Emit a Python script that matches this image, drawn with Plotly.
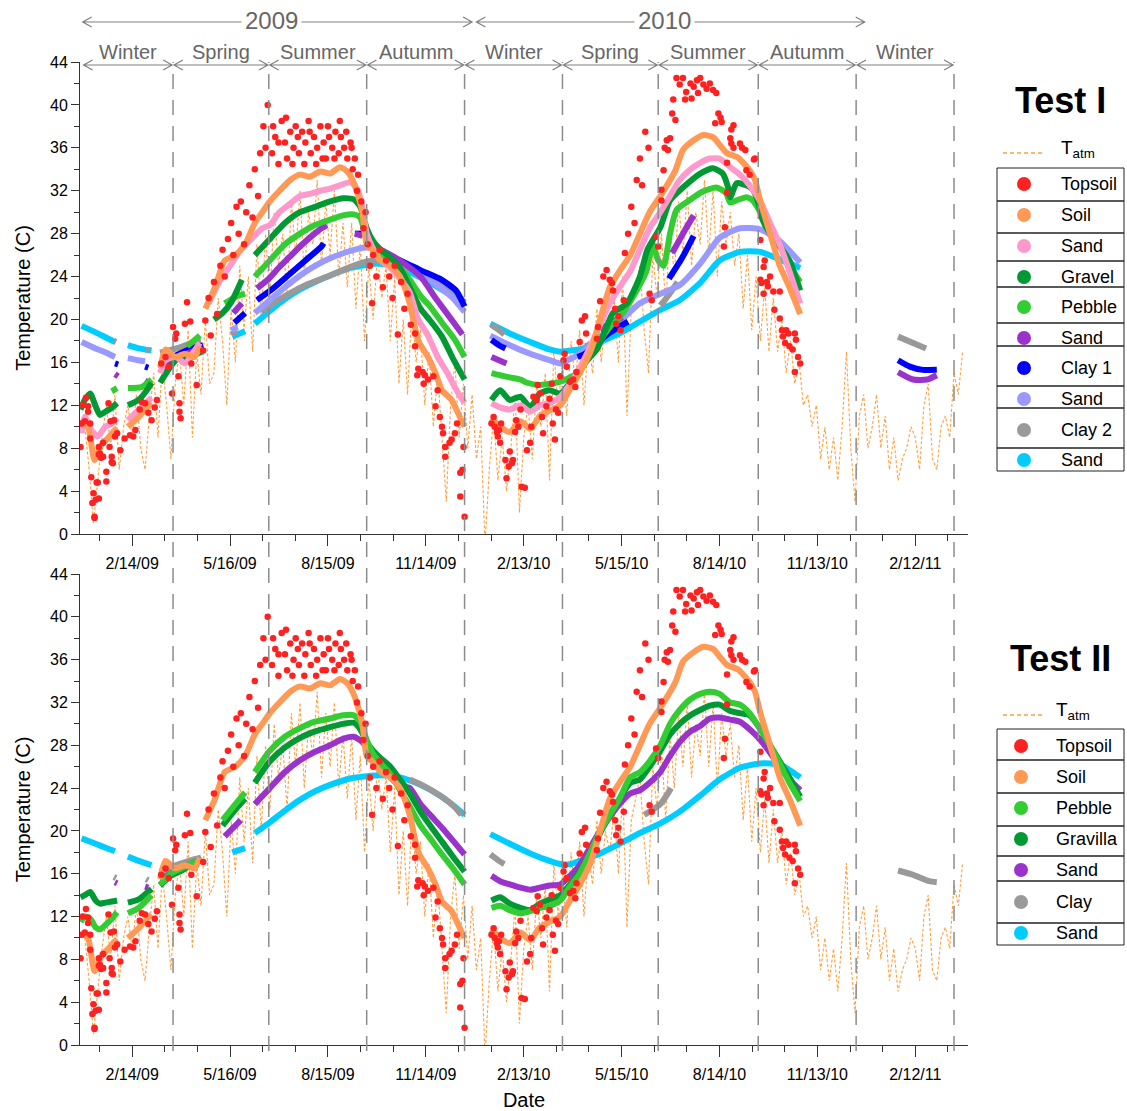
import pandas as pd
import plotly.graph_objects as go

FONT = "Arial, Liberation Sans, sans-serif"
BASE = pd.Timestamp("2009-01-01")
X0 = pd.Timestamp("2008-12-27 12:00")
X1 = pd.Timestamp("2011-04-02")

# ---------------- data (day = days since 2009-01-01) ----------------
TATM_STEP = 4
TATM = [10, 6, 1, 5, 9, 12, 8, 13,
        6, 10, 12, 9, 13, 8, 6,
        11, 15, 9, 16, 12, 7, 14, 17,
        12, 19, 9, 17, 13, 20, 14,
        15, 22, 18, 12, 21, 16, 25, 19,
        24, 17, 27, 20, 28, 22, 30, 25,
        28, 22, 31, 26, 32, 24, 30,
        27, 33, 25, 31, 26, 32, 24, 29,
        23, 29, 21, 27, 18, 25, 20, 26,
        22, 25, 18, 24, 14, 20, 13,
        21, 16, 19, 12, 17, 10, 15, 9,
        3, 12, 16, 9, 14, 8, 13, 7,
        10, -1, 6, 11, 5, 9, 4,
        8, 13, 2, 9, 12, 7, 14,
        10, 15, 5, 17, 12, 16, 11, 18,
        14, 19, 12, 18, 15, 21, 16, 20,
        18, 22, 16, 24, 11, 21, 23,
        25, 19, 15, 26, 22, 28, 21, 29,
        24, 31, 26, 32, 25, 30, 27, 33,
        26, 32, 24, 31, 27, 30, 25,
        28, 21, 26, 19, 24, 18, 23, 17,
        22, 17, 20, 15, 18, 14, 16, 12,
        13, 10, 12, 7, 10, 6, 9,
        5, 10, 17, 8, 3, 11, 13, 8,
        10, 13, 8, 11, 6, 9, 5, 7,
        8, 10, 9, 6, 12, 14, 7,
        6, 10, 11, 9, 15, 13, 17]

TOPSOIL = [
    (-4, 8.1), (-3, 10.3), (-2, 12.0), (0, 10.5), (1, 12.7), (3, 11.4), (3, 11.9), (5, 8.9), (5, 10.3), (6, 5.3),
    (7, 2.9), (8, 3.8), (9, 1.6), (9, 1.5), (10, 3.2), (11, 4.8), (12, 4.8), (13, 3.3), (13, 8.1), (13, 7.4),
    (14, 7.5), (15, 7.1), (17, 8.5), (17, 7.2), (20, 5.8), (20, 4.9), (22, 12.2), (23, 8.1), (24, 10.5), (25, 6.7),
    (25, 7.2), (26, 6.6), (27, 10.6), (28, 9.1), (30, 9.4), (33, 7.8), (37, 8.9),
    (42, 9.2), (45, 9.1), (47, 9.7), (51, 11.6), (53, 12.3), (56, 12.2), (59, 11.3), (62, 10.6), (65, 11.8), (67, 12.5),
    (71, 15.9), (75, 16.5), (78, 15.6), (81, 13.1), (82, 19.3), (84, 18.2), (85, 18.7), (87, 14.7), (88, 11.4), (88, 12.2),
    (89, 10.8), (93, 19.6), (95, 21.6), (98, 19.8), (99, 15.9), (104, 13.9), (110, 17.1), (112, 19.9),
    (115, 22.0), (117, 18.5), (120, 23.5), (123, 20.5), (126, 25.0), (128, 26.5), (130, 24.0), (133, 27.5), (136, 29.0),
    (138, 26.0), (141, 30.5), (143, 28.0), (145, 31.0), (148, 27.0), (150, 30.0), (153, 32.5), (156, 29.5), (158, 34.0),
    (161, 31.5), (163, 35.5), (166, 38.0), (168, 36.0), (170, 40.0),
    (174, 35.5), (175, 38.0), (177, 37.0), (180, 34.5), (180, 36.5), (183, 38.5), (186, 36.5), (187, 38.8), (188, 35.0),
    (191, 37.5), (193, 34.5), (194, 36.0), (196, 38.0), (198, 37.0), (199, 35.5), (202, 37.5), (204, 34.5), (205, 36.5),
    (208, 38.5), (209, 37.5), (210, 35.5), (213, 37.0), (215, 34.5), (216, 36.0), (219, 38.0), (221, 35.0), (222, 36.5),
    (224, 35.0), (226, 38.0), (227, 37.0), (230, 36.0), (232, 35.0), (233, 37.5), (236, 35.5), (237, 38.5), (238, 37.0),
    (241, 36.0), (243, 37.5), (244, 35.0), (247, 36.5), (248, 36.0), (249, 34.0), (251, 35.0), (253, 32.0), (254, 33.5),
    (257, 31.0), (259, 28.5), (261, 30.0),
    (263, 27.0), (265, 25.0), (267, 21.5), (268, 26.0), (271, 24.0), (274, 26.5), (277, 23.0), (280, 25.5), (283, 24.0),
    (286, 22.0), (288, 25.0), (291, 18.6), (294, 23.5), (297, 21.0), (300, 22.4), (303, 19.5), (307, 18.7), (307, 17.5),
    (309, 14.8), (310, 15.4), (314, 15.1), (315, 14.0), (316, 14.8), (319, 14.4), (324, 14.7), (326, 11.9), (328, 13.4),
    (330, 10.9), (332, 10.0), (333, 9.4), (335, 8.1), (335, 7.2), (339, 8.5), (341, 8.8), (344, 9.4), (346, 10.3),
    (349, 5.7), (349, 3.5), (351, 6.0), (352, 8.1), (353, 1.6),
    (378, 10.3), (380, 10.9), (381, 10.0), (383, 9.5), (384, 9.1), (385, 9.7), (386, 8.5), (387, 10.3), (391, 6.9),
    (392, 5.2), (394, 6.3), (395, 7.7), (397, 6.6), (398, 6.9), (400, 9.5), (401, 10.6), (403, 10.0), (405, 11.6),
    (406, 4.4), (409, 4.3), (411, 7.8), (414, 8.5), (415, 10.0), (417, 12.8), (420, 12.5), (421, 13.9), (423, 13.1),
    (425, 10.9), (426, 9.4), (429, 11.9), (432, 12.6), (434, 14.0), (435, 10.3), (437, 8.8), (438, 11.6), (440, 11.3),
    (442, 14.7), (445, 16.2), (446, 16.8), (448, 15.6), (451, 14.2), (454, 14.4), (456, 13.7), (457, 15.1), (460, 17.9),
    (462, 19.9), (465, 20.3), (466, 18.7), (476, 18.2), (477, 19.3), (479, 21.7), (482, 24.0), (485, 24.6), (488, 23.7),
    (490, 23.4), (491, 22.7), (493, 21.0), (494, 19.6), (496, 20.3), (498, 19.0), (501, 21.8), (502, 26.2), (505, 28.0),
    (508, 30.5), (511, 29.0), (513, 33.0), (516, 35.0), (518, 32.5), (521, 37.5), (524, 36.0), (525, 22.4), (527, 21.8),
    (531, 27.7), (533, 26.8), (536, 32.1), (536, 31.1), (538, 33.9), (539, 36.0), (541, 36.7), (542, 35.8), (544, 36.9),
    (546, 39.2), (547, 40.5), (549, 38.6), (550, 42.5), (553, 41.9), (556, 42.5), (558, 40.5), (559, 41.2), (563, 42.0),
    (564, 40.6), (566, 41.7), (569, 42.3), (570, 41.1), (572, 42.5), (575, 41.9), (578, 41.5), (581, 42.0), (584, 41.4),
    (586, 38.3), (587, 41.1), (589, 39.2), (591, 38.8), (592, 38.4), (594, 26.8), (595, 28.6), (597, 31.8), (597, 34.6),
    (600, 36.9), (601, 37.7), (601, 36.4), (603, 38.1), (603, 36.0), (609, 36.4), (611, 36.0), (614, 35.8), (615, 33.9),
    (618, 33.5), (622, 34.9), (623, 35.0),
    (628, 27.4), (628, 23.7), (629, 23.4), (631, 24.9), (631, 22.4), (632, 25.5), (634, 23.5), (635, 23.1), (637, 24.0),
    (640, 22.6), (641, 20.9), (646, 20.1), (646, 22.6), (648, 19.0), (649, 18.4), (651, 17.8), (652, 19.0), (654, 18.7),
    (655, 17.5), (658, 17.2), (660, 18.7), (660, 15.1), (661, 18.1), (663, 16.5), (665, 15.9)]

SOIL = [(-3, 10.5), (3, 10.0), (9, 6.9), (16, 8.4), (22, 9.0), (28, 9.7), (30, 9.9), None,
        (40, 10.0), (50, 10.9), (56, 11.6), (62, 12.2), None,
        (70, 15.5), (75, 17.2), (84, 16.5), (93, 16.8), (102, 16.5), (107, 17.5), None,
        (112, 21.0), (121, 23.0), (130, 25.5), (140, 26.0), (149, 27.0), (158, 29.0), (165, 30.0), (172, 31.0),
        (181, 32.0), (191, 33.0), (200, 33.5), (209, 33.3), (219, 33.8), (228, 33.6), (237, 34.2), (244, 33.8),
        (251, 32.5), (258, 30.0), (262, 27.0), (267, 26.5), (275, 25.5), (284, 25.0), (293, 24.0), (302, 21.5),
        (310, 18.0), (319, 16.5), (326, 15.0), (332, 13.4), (341, 12.5), (350, 10.6), (353, 10.0), None,
        (378, 10.8), (386, 10.0), (395, 9.5), (405, 10.5), (414, 9.8), (423, 11.0), (432, 11.5), (442, 12.0),
        (451, 13.5), (460, 15.0), (470, 17.0), (479, 20.0), (488, 23.0), (497, 24.5), (507, 26.0), (516, 28.0),
        (525, 30.0), (535, 31.5), (549, 33.9), (556, 35.8), (566, 36.7), (575, 37.2), (584, 37.0), (590, 36.3),
        (597, 35.5), (607, 35.1), (618, 33.9), (623, 33.0), (628, 31.0), (637, 28.0), (646, 25.0), (655, 23.0),
        (665, 20.5)]

# ---- Test I ----
I_SAND_PINK = [(-3, 9.4), (0, 10.9), (6, 9.7), (12, 9.1), (19, 10.0), (25, 10.3), (30, 10.8), None,
               (40, 10.6), (50, 11.6), (62, 12.7), None,
               (70, 15.0), (75, 16.2), (85, 16.5), (93, 15.9), (100, 16.8), (107, 17.8), None,
               (115, 21.5), (125, 23.5), (135, 25.0), (145, 26.5), (155, 27.5), (165, 28.5), (172, 28.8),
               (181, 30.0), (191, 30.8), (200, 31.5), (209, 31.7), (219, 32.0), (228, 32.2), (237, 32.5),
               (247, 32.8), (254, 32.0), (258, 30.5), (262, 28.0), (267, 26.8), (275, 25.5), (284, 24.8),
               (293, 23.8), (302, 22.5), (310, 20.0), (319, 18.5), (328, 16.5), (337, 15.0), (345, 13.5),
               (353, 12.2), None,
               (378, 12.2), (386, 11.8), (395, 11.6), (405, 12.0), (414, 11.4), (423, 12.0), (432, 12.2),
               (442, 12.8), (451, 14.0), (460, 15.5), (470, 17.5), (479, 19.5), (488, 21.5), (497, 23.0),
               (507, 24.5), (516, 26.5), (525, 28.5), (535, 30.0), (544, 31.5), (553, 33.0), (563, 34.0),
               (572, 34.6), (581, 35.0), (590, 35.0), (600, 34.2), (609, 33.5), (618, 32.5), (628, 31.0),
               (637, 29.0), (646, 27.0), (655, 24.5), (665, 21.5)]
I_GRAVEL = [(-4, 11.6), (0, 12.5), (5, 13.1), (10, 11.9), (14, 11.1), (19, 11.4), (24, 11.7), (30, 12.2), None,
            (40, 12.0), (50, 12.5), (59, 13.6), (62, 14.1), None,
            (70, 14.1), (81, 15.8), (90, 16.7), (93, 16.0), (99, 16.5), (109, 17.0), None,
            (120, 20.0), (128, 20.6), (136, 21.6), (146, 23.7), None,
            (158, 26.0), (172, 27.5), (186, 29.0), (200, 30.0), (214, 30.5), (228, 31.0), (240, 31.3),
            (250, 31.2), (256, 30.5), (262, 28.5), (268, 27.3), (275, 26.5), (284, 25.8), (293, 24.8),
            (302, 23.0), (312, 21.0), (321, 19.9), (332, 18.4), (343, 16.2), (353, 14.4), None,
            (378, 12.5), (386, 13.4), (395, 12.5), (405, 12.8), (414, 11.8), (423, 13.1), (432, 13.4),
            (442, 13.1), (451, 14.1), (467, 16.2), (476, 17.2), (485, 19.3), (491, 20.6), (504, 21.5),
            (516, 24.0), (523, 26.5), (535, 28.6), (544, 31.1), (556, 32.3), (572, 33.6), (584, 34.1),
            (593, 33.6), (598, 32.3), (600, 31.4), (606, 32.7), (615, 32.5), (621, 32.1), (626, 30.9),
            (630, 29.3), (637, 28.0), (646, 26.8), (655, 25.5), (665, 22.7)]
I_PEBBLE = [(25, 13.3), (30, 13.6), None,
            (40, 13.6), (53, 13.7), (62, 14.4), None,
            (95, 17.5), (107, 18.5), None,
            (130, 21.5), (140, 22.1), (149, 22.4), None,
            (158, 24.0), (172, 25.5), (186, 27.0), (200, 28.0), (214, 28.8), (228, 29.3), (240, 29.7),
            (250, 29.8), (256, 29.5), (262, 27.5), (268, 26.8), (275, 26.0), (284, 25.3), (293, 24.7),
            (302, 23.7), (312, 22.2), (321, 21.2), (332, 19.7), (344, 18.1), (353, 16.5), None,
            (378, 15.0), (386, 14.8), (395, 14.6), (405, 14.4), (411, 14.1), (423, 13.9), (432, 14.0),
            (442, 14.2), (458, 15.0), (473, 17.2), (488, 19.3), (497, 20.2), (504, 21.2), (513, 22.7),
            (522, 24.5), (528, 27.0), (533, 25.5), (538, 25.0), (544, 28.0), (550, 30.2), (562, 31.1),
            (574, 31.9), (587, 32.3), (596, 31.8), (600, 30.9), (606, 31.1), (615, 31.4), (621, 31.1),
            (625, 30.5), (637, 28.5), (646, 27.0), (655, 25.0), (665, 23.5)]
I_SAND_PURPLE = [(28, 14.9), (31, 14.7), None, (56, 14.3), (59, 14.1), None,
                 (70, 15.3), (80, 16.0), (90, 16.6), (100, 17.0), (107, 17.3), None,
                 (138, 20.6), (146, 21.5), None,
                 (160, 22.9), (170, 23.7), (180, 24.8), (190, 25.8), (200, 26.8), (210, 27.7), (220, 28.5),
                 (225, 28.8), None,
                 (251, 28.0), (258, 27.8), None,
                 (275, 26.5), (293, 25.5), (312, 24.0), (326, 22.0), (340, 20.1), (351, 18.6), None,
                 (378, 16.5), (385, 16.2), (392, 15.9), None,
                 (479, 19.0), (490, 19.8), (500, 20.2), None,
                 (546, 26.2), (556, 28.0), (566, 29.7), None,
                 (756, 15.1), (770, 14.4), (783, 14.4), (792, 14.8)]
I_CLAY1 = [(28, 15.9), (31, 15.8), None, (56, 15.6), (59, 15.5), None,
           (70, 15.8), (80, 16.4), (90, 16.9), (100, 17.3), (110, 17.6), None,
           (139, 19.7), (149, 20.6), None,
           (160, 21.8), (175, 22.9), (190, 24.2), (205, 25.5), (220, 26.8), (222, 27.1), None,
           (251, 28.0), (259, 28.0), None,
           (275, 26.0), (293, 25.5), (312, 24.6), (330, 23.8), (345, 22.7), (353, 21.2), None,
           (378, 18.1), (385, 17.6), (391, 17.3), None,
           (458, 16.5), (465, 16.8), (487, 18.7), (505, 19.8), None,
           (543, 23.8), (555, 25.7), (566, 27.8), None,
           (756, 16.2), (767, 15.6), (779, 15.3), (792, 15.3)]
I_SAND_LAV = [(-3, 17.9), (10, 17.3), (20, 16.9), (28, 16.5), None,
              (40, 16.4), (50, 16.2), (56, 16.1), None,
              (136, 19.0), (142, 19.3), None,
              (158, 20.6), (172, 21.8), (186, 23.0), (200, 24.1), (214, 25.0), (228, 25.7), (247, 26.4),
              (262, 26.7), (275, 26.3), (293, 25.5), (312, 24.3), (330, 23.0), (341, 22.1), (353, 20.7), None,
              (377, 18.5), (395, 17.6), (414, 16.8), (432, 16.2), (442, 15.9), (451, 16.3), (460, 16.8),
              (479, 18.4), (497, 19.8), (516, 21.5), (535, 22.4), (553, 23.2), (572, 25.2), (590, 27.6),
              (609, 28.5), (628, 28.4), (646, 27.3), (665, 25.3)]
I_CLAY2 = [(27, 18.0), (29, 17.9), None, (57, 17.2), (60, 17.1), None,
           (70, 16.9), (85, 17.3), (100, 17.8), (108, 17.9), None,
           (136, 18.6), (141, 18.9), None,
           (164, 20.7), (175, 21.5), (190, 22.4), (205, 23.2), (228, 24.1), (247, 24.9), (262, 25.4),
           (275, 25.5), (293, 25.0), (312, 24.4), (330, 23.2), (345, 22.4), (353, 21.6), None,
           (378, 19.5), (385, 19.0), (390, 18.6), None,
           (465, 17.5), (471, 17.7), None,
           (535, 21.3), (543, 22.3), (551, 23.5), None,
           (756, 18.4), (782, 17.3)]
I_SAND_CYAN = [(-3, 19.4), (10, 18.8), (20, 18.3), (28, 17.9), None,
               (40, 17.6), (50, 17.3), (62, 17.1), None,
               (137, 18.4), (149, 18.9), None,
               (158, 19.6), (172, 20.8), (186, 21.9), (200, 22.8), (214, 23.5), (228, 24.1), (247, 24.8),
               (262, 25.1), (275, 25.2), (293, 24.8), (312, 23.9), (330, 22.9), (353, 21.5), None,
               (377, 19.6), (395, 18.7), (414, 17.9), (432, 17.2), (442, 17.0), (451, 17.1), (460, 17.2),
               (479, 17.9), (497, 18.7), (516, 19.8), (535, 20.9), (553, 21.8), (572, 23.4), (590, 25.5),
               (609, 26.3), (628, 26.3), (646, 25.6), (665, 24.8)]

# ---- Test II ----
II_PEBBLE = [(-4, 11.5), (0, 12.0), (5, 11.8), (10, 11.0), (14, 10.8), (19, 11.2), (25, 11.8), (30, 12.4), None,
             (40, 12.3), (50, 12.8), (62, 14.0), None,
             (70, 15.0), (80, 16.0), (90, 16.5), (100, 17.0), (109, 17.3), None,
             (128, 21.0), (140, 22.5), (149, 23.6), None,
             (158, 25.5), (172, 27.5), (186, 28.8), (200, 29.6), (214, 30.2), (228, 30.5), (240, 30.8),
             (250, 30.8), (256, 30.2), (262, 28.5), (268, 27.2), (275, 26.3), (284, 25.3), (293, 23.8),
             (302, 22.3), (312, 20.5), (321, 19.3), (332, 17.8), (343, 16.4), (353, 15.0), None,
             (378, 12.8), (386, 13.0), (395, 12.6), (405, 12.3), (414, 12.5), (423, 12.8), (432, 13.0),
             (442, 13.5), (451, 14.8), (460, 16.0), (470, 18.0), (479, 20.0), (488, 21.5), (497, 23.0),
             (507, 25.0), (516, 25.5), (525, 26.5), (535, 28.0), (544, 30.0), (553, 31.3), (563, 32.3),
             (572, 32.8), (581, 33.0), (590, 32.8), (600, 32.0), (609, 31.8), (618, 31.0), (628, 29.5),
             (637, 28.0), (646, 26.3), (655, 24.5), (665, 22.8)]
II_GRAVILLA = [(-4, 13.8), (0, 14.0), (5, 14.3), (10, 13.5), (14, 13.2), (19, 13.3), (25, 13.4), (30, 13.5), None,
               (40, 13.3), (50, 13.6), (62, 14.6), None,
               (70, 14.9), (80, 15.8), (90, 16.3), (100, 16.9), (109, 17.3), None,
               (128, 20.5), (140, 22.0), (149, 23.0), None,
               (158, 24.5), (172, 26.5), (186, 27.8), (200, 28.7), (214, 29.3), (228, 29.7), (240, 30.0),
               (250, 30.1), (256, 29.5), (262, 28.3), (268, 27.5), (275, 26.8), (284, 26.0), (293, 24.8),
               (302, 23.5), (312, 21.8), (321, 20.5), (332, 19.0), (343, 17.5), (353, 16.2), None,
               (378, 13.5), (386, 13.8), (395, 13.2), (405, 12.8), (414, 12.6), (423, 13.2), (432, 13.6),
               (442, 14.0), (451, 15.0), (460, 16.2), (470, 18.0), (479, 19.8), (488, 21.5), (497, 23.0),
               (507, 24.5), (516, 24.8), (525, 26.0), (535, 27.5), (544, 29.0), (553, 30.0), (563, 30.8),
               (572, 31.3), (581, 31.7), (590, 31.8), (600, 31.2), (609, 31.0), (618, 30.8), (628, 29.5),
               (637, 28.0), (646, 26.5), (655, 25.0), (665, 23.2)]
II_SAND_PURPLE = [(28, 15.2), (30, 15.1), None, (56, 14.8), (59, 14.7), None,
                  (70, 15.5), (85, 16.3), (100, 17.0), (108, 17.3), None,
                  (130, 19.5), (145, 21.0), None,
                  (158, 22.5), (172, 24.0), (186, 25.5), (200, 26.6), (214, 27.4), (228, 28.0), (240, 28.6),
                  (250, 28.8), (258, 28.3), (265, 27.3), (275, 26.0), (284, 25.0), (293, 24.2), (302, 24.0),
                  (312, 22.5), (321, 21.5), (332, 20.3), (343, 19.0), (353, 17.8), None,
                  (378, 15.8), (386, 15.3), (395, 15.0), (405, 14.7), (414, 14.5), (423, 14.7), (432, 14.9),
                  (442, 15.0), (451, 15.8), (460, 16.8), (470, 18.5), (479, 20.0), (488, 21.3), (497, 22.5),
                  (507, 23.5), (516, 23.8), (525, 24.5), (535, 25.5), (544, 27.0), (553, 28.3), (563, 29.3),
                  (572, 29.8), (581, 30.5), (590, 30.6), (600, 30.4), (609, 30.2), (618, 29.5), (628, 28.5),
                  (637, 27.3), (646, 26.0), (655, 24.8), (665, 23.8)]
II_CLAY = [(27, 15.7), (29, 15.6), None, (57, 15.5), (59, 15.4), None,
           (70, 16.2), (85, 16.8), (100, 17.3), (108, 17.5), None,
           (302, 24.8), (315, 24.2), (330, 23.3), (343, 22.3), (350, 21.5), None,
           (377, 17.8), (385, 17.2), (390, 16.9), None,
           (460, 16.6), (470, 17.0), None,
           (520, 21.5), (535, 22.5), (545, 24.0), None,
           (756, 16.3), (770, 15.9), (785, 15.3), (792, 15.2)]
II_SAND_CYAN = [(-3, 19.3), (10, 18.8), (20, 18.4), (28, 18.1), None,
                (40, 17.6), (50, 17.2), (62, 16.8), None,
                (137, 18.0), (149, 18.4), None,
                (158, 19.8), (172, 20.8), (186, 21.9), (200, 22.9), (214, 23.7), (228, 24.3), (247, 24.9),
                (262, 25.1), (275, 25.2), (293, 25.0), (312, 24.3), (330, 23.3), (341, 22.5), (353, 21.5), None,
                (377, 19.7), (395, 18.8), (414, 17.9), (432, 17.2), (442, 16.9), (451, 16.9), (460, 17.2),
                (479, 17.9), (497, 18.8), (516, 19.8), (535, 20.7), (553, 21.8), (572, 23.3), (590, 24.8),
                (609, 25.9), (628, 26.3), (646, 26.2), (665, 25.0)]

SEASON_BOUNDS = ["2009-03-24", "2009-06-21", "2009-09-20", "2009-12-20", "2010-03-21",
                 "2010-06-18", "2010-09-19", "2010-12-19", "2011-03-20"]
SEASON_START = "2008-12-30"
SEASONS = ["Winter", "Spring", "Summer", "Autumm", "Winter", "Spring", "Summer", "Autumm", "Winter"]
YEARS = ["2009", "2010"]
YEAR_SPANS = [("2008-12-30", "2009-12-27"), ("2009-12-31", "2010-12-27")]

C_TOP, C_SOIL, C_PINK = "#FF2020", "#FF9955", "#FF99CC"
C_DKG, C_LTG, C_PUR = "#009933", "#33CC33", "#9933CC"
C_BLUE, C_LAV, C_GRAY, C_CYAN = "#0000FF", "#9999FF", "#999999", "#00CCFF"
C_TATM = "#FFA040"

TEST1 = [("Topsoil", C_TOP, TOPSOIL), ("Soil", C_SOIL, SOIL), ("Sand", C_PINK, I_SAND_PINK),
         ("Gravel", C_DKG, I_GRAVEL), ("Pebble", C_LTG, I_PEBBLE), ("Sand", C_PUR, I_SAND_PURPLE),
         ("Clay 1", C_BLUE, I_CLAY1), ("Sand", C_LAV, I_SAND_LAV), ("Clay 2", C_GRAY, I_CLAY2),
         ("Sand", C_CYAN, I_SAND_CYAN)]
TEST2 = [("Topsoil", C_TOP, TOPSOIL), ("Soil", C_SOIL, SOIL), ("Pebble", C_LTG, II_PEBBLE),
         ("Gravilla", C_DKG, II_GRAVILLA), ("Sand", C_PUR, II_SAND_PURPLE), ("Clay", C_GRAY, II_CLAY),
         ("Sand", C_CYAN, II_SAND_CYAN)]


def to_xy(pairs):
    xs, ys = [], []
    for p in pairs:
        if p is None:
            xs.append(None)
            ys.append(None)
        else:
            xs.append(BASE + pd.Timedelta(days=p[0]))
            ys.append(p[1])
    return xs, ys


# ---------------- geometry (pixels of the 1127x1111 canvas) ----------------
W, H = 1127, 1111
PL, PR, PT, PB = 80, 968, 62, 1045
TOP_BOTTOM, BOT_TOP = 534, 574


def px(xp):
    return (xp - PL) / (PR - PL)


def py(yp):
    return (PB - yp) / (PB - PT)


def xfrac(d):
    return (pd.Timestamp(d) - X0) / (X1 - X0)


fig = go.Figure()

tatm_x = [BASE + pd.Timedelta(days=TATM_STEP * i) for i in range(len(TATM))]
for xa, ya in (("x", "y"), ("x2", "y2")):
    fig.add_trace(go.Scatter(x=tatm_x, y=TATM, mode="lines", xaxis=xa, yaxis=ya,
                             line=dict(color=C_TATM, width=1.1, dash="3px,2px"), hoverinfo="skip"))

for series, (xa, ya) in ((TEST1, ("x", "y")), (TEST2, ("x2", "y2"))):
    for name, color, data in reversed(series):
        xs, ys = to_xy(data)
        if name == "Topsoil":
            fig.add_trace(go.Scatter(x=xs, y=ys, mode="markers", xaxis=xa, yaxis=ya, name=name,
                                     marker=dict(color=color, size=6.5, line=dict(width=0))))
        else:
            fig.add_trace(go.Scatter(x=xs, y=ys, mode="lines", xaxis=xa, yaxis=ya, name=name,
                                     line=dict(color=color, width=6, shape="spline", smoothing=0.6),
                                     connectgaps=False))

DAY_MS = 86400000
xcommon = dict(type="date", range=[X0, X1], tick0="2009-02-14", dtick=91 * DAY_MS,
               tickformat="%-m/%-d/%y", ticks="outside", ticklen=11, tickwidth=1, tickcolor="#333",
               showline=True, linecolor="#333", linewidth=1, showgrid=False, zeroline=False,
               ticklabelstandoff=4, automargin=False,
               tickfont=dict(size=16, color="black", family=FONT),
               minor=dict(tick0="2009-02-14", dtick=91 * DAY_MS / 3, ticks="outside", ticklen=6,
                          tickcolor="#333", showgrid=False))
ycommon = dict(range=[0, 44], tick0=0, dtick=4, ticks="outside", ticklen=8, tickwidth=1, tickcolor="#333",
               showline=True, linecolor="#333", linewidth=1, showgrid=False, zeroline=False,
               automargin=False,
               tickfont=dict(size=16, color="black", family=FONT),
               minor=dict(dtick=2, ticks="outside", ticklen=5, tickcolor="#333", showgrid=False),
               title=dict(text="Temperature (C)", font=dict(size=20, color="black", family=FONT), standoff=14))

fig.update_layout(
    width=W, height=H, showlegend=False, plot_bgcolor="white", paper_bgcolor="white",
    margin=dict(l=PL, r=W - PR, t=PT, b=H - PB, autoexpand=False),
    font=dict(family=FONT, color="black"),
    xaxis=dict(domain=[0, 1], anchor="y", **xcommon),
    yaxis=dict(domain=[py(TOP_BOTTOM), 1], anchor="x", **ycommon),
    xaxis2=dict(domain=[0, 1], anchor="y2",
                title=dict(text="Date", font=dict(size=20, color="black", family=FONT), standoff=12),
                **xcommon),
    yaxis2=dict(domain=[0, py(BOT_TOP)], anchor="x2", **ycommon),
)

shapes = []
annotations = []
GRAY_TXT = "#666666"

# season dashed boundaries spanning both panels
for d in SEASON_BOUNDS:
    shapes.append(dict(type="line", xref="x", yref="paper", x0=d, x1=d, y0=-0.006, y1=1,
                       line=dict(color="#8c8c8c", width=1.5, dash="15px,11px")))


def arrow_path(xa, xb, y, dxp=9, dyp=5):
    dx = dxp / (PR - PL)
    dy = dyp / (PB - PT)
    return (f"M{xa},{y} L{xb},{y} "
            f"M{xa + dx},{y + dy} L{xa},{y} L{xa + dx},{y - dy} "
            f"M{xb - dx},{y + dy} L{xb},{y} L{xb - dx},{y - dy}")


# season arrows + labels
season_edges = [SEASON_START] + SEASON_BOUNDS
y_season = py(65)
for i, lab in enumerate(SEASONS):
    a, b = xfrac(season_edges[i]), xfrac(season_edges[i + 1])
    shapes.append(dict(type="path", xref="paper", yref="paper", path=arrow_path(a + 0.001, b - 0.001, y_season),
                       line=dict(color="#808080", width=1.2)))
    annotations.append(dict(xref="paper", yref="paper", x=(a + b) / 2, y=py(52), text=lab, showarrow=False,
                            font=dict(size=20, color=GRAY_TXT, family=FONT), xanchor="center", yanchor="middle"))

# year arrows + labels
y_year = py(22)
for lab, (s, e) in zip(YEARS, YEAR_SPANS):
    a, b = xfrac(s), xfrac(e)
    shapes.append(dict(type="path", xref="paper", yref="paper", path=arrow_path(a, b, y_year),
                       line=dict(color="#808080", width=1.2)))
    annotations.append(dict(xref="paper", yref="paper", x=(a + b) / 2 - 0.007, y=py(20), text=lab,
                            showarrow=False, bgcolor="white", borderpad=3,
                            font=dict(size=24, color=GRAY_TXT, family=FONT), xanchor="center",
                            yanchor="middle"))


# custom legends
def legend(series, title, title_y, tatm_y, borders, centers, dot_x, text_x):
    annotations.append(dict(xref="paper", yref="paper", x=px(1060), y=py(title_y), text=f"<b>{title}</b>",
                            showarrow=False, font=dict(size=36, color="black", family=FONT),
                            xanchor="center", yanchor="middle"))
    shapes.append(dict(type="line", xref="paper", yref="paper", x0=px(1003), x1=px(1043),
                       y0=py(tatm_y + 1), y1=py(tatm_y + 1), line=dict(color=C_TATM, width=1.3, dash="4px,3px")))
    annotations.append(dict(xref="paper", yref="paper", x=px(text_x), y=py(tatm_y - 3),
                            text="T<sub>atm</sub>", showarrow=False,
                            font=dict(size=19, color="black", family=FONT), xanchor="left", yanchor="middle"))
    for i, (name, color, _) in enumerate(series):
        shapes.append(dict(type="rect", xref="paper", yref="paper", x0=px(997), x1=px(1124),
                           y0=py(borders[i + 1]), y1=py(borders[i]), line=dict(color="#222", width=1)))
        shapes.append(dict(type="circle", xref="paper", yref="paper", xsizemode="pixel", ysizemode="pixel",
                           xanchor=px(dot_x), yanchor=py(centers[i]), x0=-7, x1=7, y0=-7, y1=7,
                           fillcolor=color, line=dict(width=0)))
        annotations.append(dict(xref="paper", yref="paper", x=px(text_x), y=py(centers[i]), text=name,
                                showarrow=False, font=dict(size=18, color="black", family=FONT),
                                xanchor="left", yanchor="middle"))


legend(TEST1, "Test I", 100, 152,
       [168, 201, 233, 261, 287, 323, 346, 386, 408, 448, 471],
       [184, 215, 246, 277, 307, 338, 368, 399, 430, 460], 1024, 1059)
legend(TEST2, "Test II", 658, 714,
       [729, 760, 793, 826, 856, 881, 923, 945],
       [746, 777, 808, 839, 870, 902, 933], 1021, 1054)

fig.update_layout(shapes=shapes, annotations=annotations)
fig.write_html("out.html")
